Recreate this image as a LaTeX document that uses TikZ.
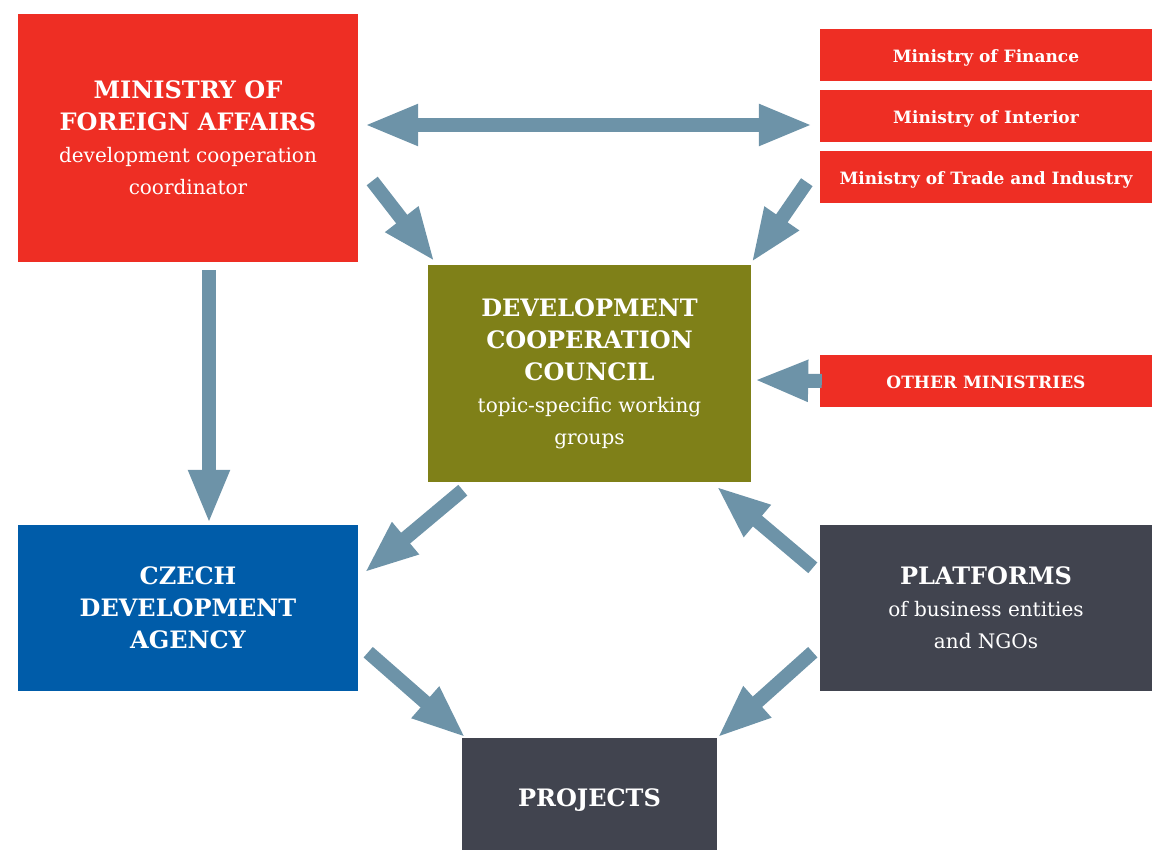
\documentclass[tikz,border=0pt]{standalone}
\usepackage{fontspec}
\setmainfont{DejaVu Serif}
\usetikzlibrary{arrows.meta,calc}
\definecolor{mred}{HTML}{EE2E24}
\definecolor{molive}{HTML}{7F8018}
\definecolor{mblue}{HTML}{005CA9}
\definecolor{mdark}{HTML}{41444F}
\definecolor{marr}{HTML}{6D93A8}
\tikzset{
  box/.style={rectangle, inner sep=0pt, text=white, align=center, font=\fontsize{20}{32}\selectfont},
  smallbox/.style={box, fill=mred, minimum width=332pt, minimum height=52pt, font=\bfseries\fontsize{17}{20}\selectfont},
  arr/.style={draw=marr, line width=14pt, -{Triangle[length=54pt,width=38pt]}},
  darr/.style={draw=marr, line width=14pt, {Triangle[length=54pt,width=38pt]}-{Triangle[length=54pt,width=38pt]}},
}
\newcommand{\hd}[1]{{\bfseries\fontsize{24}{32}\selectfont #1}}
\newcommand{\sinkby}[2]{\raisebox{-#1}[\height][\depth]{#2}}
\begin{document}
\begin{tikzpicture}[x=1pt,y=-1pt]
\useasboundingbox (0,0) rectangle (1152,850);
\node[box, fill=mred, minimum width=340pt, minimum height=248pt] (mfa) at (188,138)
  {\hd{MINISTRY OF}\\\hd{FOREIGN AFFAIRS}\\development cooperation\\coordinator};
\node[smallbox] (fin) at (986,55) {\sinkby{3pt}{Ministry of Finance}};
\node[smallbox] (int) at (986,116) {\sinkby{3pt}{Ministry of Interior}};
\node[smallbox] (trade) at (986,177) {\sinkby{3pt}{Ministry of Trade and Industry}};
\node[box, fill=molive, minimum width=323pt, minimum height=217pt] (dcc) at (589.5,373.5)
  {\hd{DEVELOPMENT}\\\hd{COOPERATION}\\\hd{COUNCIL}\\topic-specific working\\groups};
\node[smallbox] (other) at (986,381) {\sinkby{1pt}{OTHER MINISTRIES}};
\node[box, fill=mblue, minimum width=340pt, minimum height=166pt] (cda) at (188,608)
  {\hd{CZECH}\\\hd{DEVELOPMENT}\\\hd{AGENCY}};
\node[box, fill=mdark, minimum width=332pt, minimum height=166pt] (plat) at (986,608)
  {\hd{PLATFORMS}\\of business entities\\and NGOs};
\node[box, fill=mdark, minimum width=255pt, minimum height=112pt] (proj) at (589.5,794)
  {\hd{\sinkby{6pt}{PROJECTS}}};

\draw[darr] ($(mfa.east)+(6,-13)$) -- ($(int.west)+(-7,9)$);
\draw[arr] ($(mfa.east)+(14,43)$) -- ($(dcc.north west)+(7,-3)$);
\draw[arr] ($(trade.south west)+(-13,-21)$) -- ($(dcc.north east)+(0,-2)$);
\draw[arr] ($(mfa.south)+(21,8)$) -- ($(cda.north)+(21,-1)$);
\draw[arr] ($(other.west)+(2,0)$) -- ($(dcc.east)+(3,6.5)$);
\draw[arr] ($(dcc.south west)+(35,8)$) -- ($(cda.north east)+(6,48)$);
\draw[arr] ($(plat.north west)+(-7,43)$) -- ($(dcc.south east)+(-35,4)$);
\draw[arr] ($(cda.south east)+(10,-39)$) -- ($(proj.north west)+(4,0)$);
\draw[arr] ($(plat.south west)+(-7,-39)$) -- ($(proj.north east)+(0,0)$);
\end{tikzpicture}
\end{document}
